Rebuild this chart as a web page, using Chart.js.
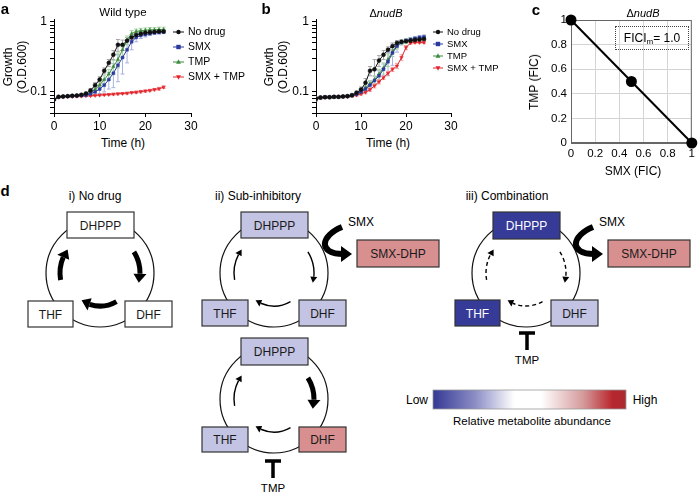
<!DOCTYPE html>
<html><head><meta charset="utf-8">
<script src="https://cdn.jsdelivr.net/npm/chart.js@4/dist/chart.umd.min.js"></script>
<style>
html,body{margin:0;padding:0;background:#fff;}
#root{position:relative;width:699px;height:493px;overflow:hidden;font-family:"Liberation Sans",Arial,sans-serif;color:#000;}
canvas{position:absolute;}
svg{position:absolute;left:0;top:0;}
.t{position:absolute;white-space:nowrap;transform:translate(-50%,-50%);line-height:1;}
.r{transform:translate(-50%,-50%) rotate(-90deg);}
#fici{position:absolute;left:615px;top:26px;width:74px;height:24px;border:1px dotted #444;box-sizing:border-box;font-size:12px;text-align:center;line-height:22px;}
#fici sub{font-size:8px;line-height:0;vertical-align:-2px;}
</style></head><body><div id="root">
<svg id="d" width="699" height="493"></svg>
<canvas id="ca" style="left:0;top:0" width="250" height="135"></canvas>
<canvas id="cb" style="left:262px;top:0" width="262" height="135"></canvas>
<canvas id="cc" style="left:460px;top:0" width="239" height="165"></canvas>
<div id="fici">FICI<sub>m</sub>= 1.0</div>
</div>
<script>
// ---------------- data ----------------
const hours = [0,1,2,3,4,5,6,7,8,9,10,11,12,13,14,15,16,17,18,19,20,21,22,23,24];
const seriesNames = ['No drug','SMX','TMP','SMX + TMP'];
const timeTicks = [0,10,20,30];
const growthTickLabels = [0.1, 1];
const growthTickMarks = [0.05,0.06,0.07,0.08,0.09,0.1,0.2,0.3,0.4,0.5,0.6,0.7,0.8,0.9,1];
const ficTicks = [0,0.2,0.4,0.6,0.8,1];

// panel a: wild type
const noDrugA = [0.078,0.085,0.086,0.087,0.088,0.089,0.091,0.095,0.105,0.125,0.150,0.200,0.260,0.340,0.470,0.470,0.540,0.600,0.650,0.680,0.700,0.710,0.720,0.730,0.730];
const smxA    = [0.078,0.085,0.086,0.087,0.088,0.088,0.089,0.090,0.094,0.100,0.110,0.125,0.150,0.185,0.240,0.310,0.400,0.520,0.600,0.640,0.660,0.680,0.700,0.710,0.720];
const tmpA    = [0.078,0.085,0.086,0.087,0.088,0.089,0.090,0.092,0.098,0.108,0.125,0.150,0.180,0.230,0.290,0.400,0.550,0.680,0.730,0.750,0.760,0.770,0.770,0.780,0.780];
const comboA  = [0.078,0.084,0.085,0.086,0.086,0.087,0.087,0.088,0.088,0.089,0.090,0.091,0.092,0.093,0.094,0.095,0.096,0.098,0.099,0.101,0.103,0.105,0.108,0.111,0.117];
const errNoDrugA = [0.002,0.002,0.002,0.002,0.002,0.002,0.003,0.004,0.006,0.010,0.015,0.020,0.030,0.050,0.090,0.080,0.060,0.050,0.040,0.040,0.040,0.040,0.040,0.040,0.040];
const errSmxA    = [0.002,0.002,0.002,0.002,0.002,0.002,0.003,0.004,0.006,0.010,0.015,0.025,0.040,0.070,0.100,0.130,0.140,0.120,0.080,0.060,0.050,0.040,0.040,0.040,0.040];
const errTmpA    = [0.002,0.002,0.002,0.002,0.002,0.002,0.003,0.004,0.006,0.010,0.015,0.020,0.030,0.050,0.070,0.090,0.080,0.070,0.060,0.060,0.060,0.060,0.060,0.060,0.060];
const errComboA  = [0.002,0.002,0.002,0.002,0.002,0.002,0.002,0.002,0.002,0.002,0.002,0.002,0.003,0.003,0.003,0.003,0.003,0.003,0.004,0.004,0.004,0.004,0.004,0.005,0.005];

// panel b: delta nudB
const noDrugB = [0.080,0.083,0.084,0.084,0.085,0.085,0.086,0.087,0.090,0.097,0.108,0.135,0.200,0.210,0.280,0.340,0.400,0.450,0.500,0.520,0.530,0.540,0.550,0.560,0.570];
const smxB    = [0.080,0.083,0.084,0.084,0.085,0.085,0.086,0.087,0.089,0.093,0.100,0.110,0.125,0.145,0.170,0.210,0.270,0.360,0.450,0.510,0.540,0.560,0.580,0.600,0.610];
const tmpB    = [0.080,0.083,0.084,0.084,0.085,0.085,0.086,0.087,0.089,0.094,0.102,0.115,0.130,0.150,0.180,0.220,0.290,0.380,0.460,0.510,0.530,0.550,0.560,0.570,0.580];
const comboB  = [0.080,0.083,0.084,0.084,0.085,0.085,0.086,0.086,0.088,0.090,0.094,0.099,0.108,0.122,0.140,0.160,0.185,0.210,0.235,0.310,0.430,0.500,0.510,0.510,0.510];
const errNoDrugB = [0.006,0.004,0.003,0.003,0.003,0.003,0.003,0.003,0.004,0.006,0.010,0.020,0.030,0.080,0.050,0.050,0.040,0.050,0.040,0.030,0.030,0.030,0.030,0.030,0.030];
const errSmxB    = [0.004,0.003,0.003,0.003,0.003,0.003,0.003,0.003,0.004,0.005,0.008,0.010,0.015,0.020,0.030,0.040,0.100,0.120,0.080,0.040,0.040,0.040,0.040,0.040,0.040];
const errTmpB    = [0.004,0.003,0.003,0.003,0.003,0.003,0.003,0.003,0.004,0.005,0.008,0.010,0.015,0.020,0.030,0.040,0.060,0.060,0.050,0.040,0.040,0.040,0.040,0.040,0.040];
const errComboB  = [0.004,0.003,0.003,0.003,0.003,0.003,0.003,0.003,0.003,0.003,0.004,0.005,0.006,0.008,0.010,0.010,0.012,0.015,0.020,0.030,0.030,0.020,0.020,0.020,0.020];

// panel c: isobologram
const smxFic = [0, 0.5, 1];
const tmpFic = [1, 0.5, 0];

// ---------------- styles ----------------
const seriesColors = ['#111111','#2b3a9e','#3d8b3d','#e3262c'];
const errColors = ['#a8a8a8','#a9b2dc','#a9d3a9','#f2a3a3'];
const markers = ['circle','rect','triangle','triangle'];
const markerRot = [0,0,0,180];
const FONT = '"Liberation Sans", Arial, sans-serif';

function drawMarker(ctx, style, x, y, r, rot){
  ctx.beginPath();
  if(style==='circle'){ ctx.arc(x,y,r,0,Math.PI*2); }
  else if(style==='rect'){ ctx.rect(x-r,y-r,2*r,2*r); }
  else { const s = rot===180?-1:1; ctx.moveTo(x,y-s*r*1.2); ctx.lineTo(x+r*1.1,y+s*r*0.8); ctx.lineTo(x-r*1.1,y+s*r*0.8); ctx.closePath(); }
  ctx.fill();
}

const legendPlugin = {
  id:'lg',
  afterDraw(chart, args, o){
    if(!o || !o.items) return;
    const ctx = chart.ctx; ctx.save();
    ctx.font = o.size + 'px ' + FONT; ctx.textBaseline='middle'; ctx.textAlign='left';
    o.items.forEach((txt,i)=>{
      const y = o.y + i*o.dy; const c = seriesColors[i];
      ctx.strokeStyle=c; ctx.fillStyle=c; ctx.lineWidth=1;
      ctx.beginPath(); ctx.moveTo(o.x,y); ctx.lineTo(o.x+o.len,y); ctx.stroke();
      drawMarker(ctx, markers[i], o.x+o.len/2, y, 2.2, markerRot[i]);
      ctx.fillStyle='#000'; ctx.fillText(txt, o.x+o.len+4, y+0.5);
    });
    ctx.restore();
  }
};

const errPlugin = {
  id:'err',
  beforeDatasetsDraw(chart){
    const {ctx, chartArea:a, scales} = chart; const xs=scales.x, ys=scales.y;
    ctx.save(); ctx.beginPath(); ctx.rect(a.left,a.top-2,a.right-a.left,a.bottom-a.top+2); ctx.clip();
    chart.data.datasets.forEach(ds=>{
      if(!ds.errors) return;
      ctx.strokeStyle = ds.errColor; ctx.lineWidth=1;
      ds.data.forEach((p,j)=>{
        const e = ds.errors[j]; if(!e) return;
        const px = xs.getPixelForValue(p.x);
        const y0 = ys.getPixelForValue(Math.max(p.y-e, 0.051)); const y1 = ys.getPixelForValue(p.y+e);
        ctx.beginPath();
        ctx.moveTo(px,y0); ctx.lineTo(px,y1);
        ctx.moveTo(px-2,y0); ctx.lineTo(px+2,y0);
        ctx.moveTo(px-2,y1); ctx.lineTo(px+2,y1);
        ctx.stroke();
      });
    });
    ctx.restore();
  }
};

function growthChart(id, series, errs, rightPad, lg){
  const datasets = series.map((vals,i)=>({
    label: seriesNames[i],
    data: hours.map((h,k)=>({x:h,y:vals[k]})),
    errors: errs[i], errColor: errColors[i],
    borderColor: seriesColors[i], backgroundColor: seriesColors[i],
    borderWidth: 1, pointRadius: 2, pointStyle: markers[i], pointRotation: markerRot[i],
    pointBorderWidth: 0.5, tension: 0
  }));
  new Chart(document.getElementById(id), {
    type:'line',
    data:{datasets},
    plugins:[errPlugin, legendPlugin],
    options:{
      responsive:false, animation:false, devicePixelRatio:1,
      layout:{padding:{left:0, top:19, right:rightPad, bottom:0}},
      plugins:{legend:{display:false}, tooltip:{enabled:false}, lg:lg},
      scales:{
        x:{type:'linear', min:timeTicks[0], max:timeTicks[timeTicks.length-1],
           afterBuildTicks:s=>{s.ticks = timeTicks.map(v=>({value:v}));},
           ticks:{font:{size:12,family:FONT}, color:'#000', padding:2, autoSkip:false, maxRotation:0},
           grid:{drawOnChartArea:false, tickLength:4, color:'#000'}, border:{color:'#000', width:1},
           afterFit:s=>{s.height=22;}},
        y:{type:'logarithmic', min:0.05, max:1.1,
           afterBuildTicks:s=>{s.ticks = growthTickMarks.map(v=>({value:v}));},
           ticks:{autoSkip:false, font:{size:12,family:FONT}, color:'#000', padding:3,
                  callback:(v)=> growthTickLabels.some(t=>Math.abs(t-v)<1e-9) ? String(v) : ''},
           grid:{drawOnChartArea:false, tickLength:4, color:'#000'}, border:{color:'#000', width:1},
           afterFit:s=>{s.width=54;}}
      }
    }
  });
}

growthChart('ca', [noDrugA, smxA, tmpA, comboA], [errNoDrugA, errSmxA, errTmpA, errComboA], 59,
  {items:seriesNames, x:173, len:11, y:32, dy:15, size:10.5});
growthChart('cb', [noDrugB, smxB, tmpB, comboB], [errNoDrugB, errSmxB, errTmpB, errComboB], 73,
  {items:seriesNames, x:171, len:10, y:32, dy:12, size:9.5});

const boxPlugin = {
  id:'box',
  beforeDatasetsDraw(chart){
    const {ctx, chartArea:a} = chart; ctx.save(); ctx.strokeStyle='#666'; ctx.lineWidth=1;
    ctx.strokeRect(a.left+0.5, a.top+0.5, a.right-a.left-1, a.bottom-a.top-1); ctx.restore();
  }
};
const ficFmt = v => String(Number(v.toFixed(1)));
new Chart(document.getElementById('cc'), {
  type:'scatter',
  data:{datasets:[{data: smxFic.map((x,i)=>({x, y:tmpFic[i]})), showLine:true,
    borderColor:'#000', backgroundColor:'#000', borderWidth:2, pointRadius:4.5, clip:false}]},
  plugins:[boxPlugin],
  options:{
    responsive:false, animation:false, devicePixelRatio:1,
    layout:{padding:{left:0, top:20, right:4, bottom:0}},
    plugins:{legend:{display:false}, tooltip:{enabled:false}},
    scales:{
      x:{type:'linear', min:0, max:1, afterBuildTicks:s=>{s.ticks=ficTicks.map(v=>({value:v}));},
         ticks:{callback:ficFmt, font:{size:11.5,family:FONT}, color:'#000', padding:4, maxRotation:0, autoSkip:false},
         grid:{color:'#d4d4d4', drawTicks:false}, border:{color:'#666'}, afterFit:s=>{s.height=22;}},
      y:{type:'linear', min:0, max:1, afterBuildTicks:s=>{s.ticks=ficTicks.map(v=>({value:v}));},
         ticks:{callback:ficFmt, font:{size:11.5,family:FONT}, color:'#000', padding:4, autoSkip:false},
         grid:{color:'#d4d4d4', drawTicks:false}, border:{color:'#666'}, afterFit:s=>{s.width=111;}}
    }
  }
});

// ---------------- text labels ----------------
const root = document.getElementById('root');
function label(html, x, y, size, extra){
  const d = document.createElement('div'); d.className='t' + (extra&&extra.rot?' r':'');
  d.innerHTML = html; d.style.left=x+'px'; d.style.top=y+'px'; d.style.fontSize=size+'px';
  if(extra&&extra.bold) d.style.fontWeight='bold';
  root.appendChild(d);
}
label('a',5,8,15,{bold:1}); label('b',266,8,15,{bold:1}); label('c',536,9,15,{bold:1}); label('d',5,190,15,{bold:1});
label('Wild type',123,13,11.5);
label('\u0394<i>nudB</i>',386,13,11);
label('\u0394<i>nudB</i>',643,13,11);
label('Time (h)',123,143,12); label('Time (h)',388,143,12);
label('Growth',8,67,12,{rot:1}); label('(O.D.600)',22,67,12,{rot:1});
label('Growth',269,67,12,{rot:1}); label('(O.D.600)',283,67,12,{rot:1});
label('TMP (FIC)',534,82,12,{rot:1});
label('SMX (FIC)',633,171,12);

// ---------------- panel d diagram ----------------
const svg = document.getElementById('d');
const NS='http://www.w3.org/2000/svg';
function el(tag, attrs){ const e=document.createElementNS(NS,tag); for(const k in attrs) e.setAttribute(k,attrs[k]); svg.appendChild(e); return e; }
function txt(s,x,y,size,color,anchor){ const e=el('text',{x,y,'font-size':size,'font-family':FONT,fill:color||'#000','text-anchor':anchor||'middle','dominant-baseline':'central'}); e.textContent=s; return e; }
const LAV='#c3c3e4', BLUE='#363b98', SAL='#d88f90', WHITE='#ffffff';
function box(x,y,w,h,fill,s,tc){ el('rect',{x,y,width:w,height:h,fill,stroke:'#333','stroke-width':1.2}); txt(s,x+w/2,y+h/2+0.5,12,tc||'#1a1a1a'); }
function ring(cx,cy,r){ el('circle',{cx,cy,r,fill:'none',stroke:'#111','stroke-width':1.2}); }
const rad = d=>d*Math.PI/180;
function arcArrow(cx,cy,r,a0,a1,kind){
  const sw = kind==='thick'?5:1.4, hl = kind==='thick'?9:6, hw = kind==='thick'?6.5:3.5;
  const aEnd = a1 - (hl/r)*180/Math.PI;
  const P = a=>[cx+r*Math.cos(rad(a)), cy+r*Math.sin(rad(a))];
  const p0=P(a0), pe=P(aEnd), tip=P(a1);
  const attrs={d:`M${p0[0]} ${p0[1]} A${r} ${r} 0 0 1 ${pe[0]} ${pe[1]}`, fill:'none', stroke:'#000','stroke-width':sw};
  if(kind==='dash') attrs['stroke-dasharray']='4,3';
  el('path',attrs);
  const nx=Math.cos(rad(aEnd)), ny=Math.sin(rad(aEnd));
  el('polygon',{points:`${tip[0]},${tip[1]} ${pe[0]+nx*hw},${pe[1]+ny*hw} ${pe[0]-nx*hw},${pe[1]-ny*hw}`, fill:'#000'});
}
function cycleArrows(cx,cy,kinds){
  arcArrow(cx,cy,40,-32,14,kinds[0]);
  arcArrow(cx,cy,33,60,124,kinds[1]);
  arcArrow(cx,cy,40,170,216,kinds[2]);
}
function inhibitor(x,y){
  el('path',{d:`M${x-8} ${y} L${x+8} ${y} M${x} ${y} L${x} ${y+17}`, stroke:'#000','stroke-width':3.5, fill:'none'});
  txt('TMP',x,y+27,11.5);
}
function smxHook(dx){
  txt('SMX',348+dx,222,12,'#000','start');
  el('path',{d:`M${342+dx} 227 C${320+dx} 236, ${318+dx} 254, ${343+dx} 254`, fill:'none', stroke:'#000','stroke-width':6});
  el('polygon',{points:`${341+dx},246 ${341+dx},262 ${352+dx},254`, fill:'#000'});
  box(357+dx,240,82,27,SAL,'SMX-DHP');
}

// i) No drug
txt('i) No drug',95,196,12);
ring(100,273,54);
box(67,212,67,26,WHITE,'DHPPP'); box(28,301,45,26,WHITE,'THF'); box(125,301,47,26,WHITE,'DHF');
cycleArrows(100,273,['thick','thick','thick']);

// ii) Sub-inhibitory (top)
txt('ii) Sub-inhibitory',258,196,12);
ring(274,273,54);
box(241,212,67,26,LAV,'DHPPP'); box(202,300,46,26,LAV,'THF'); box(299,300,47,26,LAV,'DHF');
cycleArrows(274,273,['thin','thin','thin']);
smxHook(0);

// ii) Sub-inhibitory (bottom)
ring(274,399,54);
box(241,338,67,27,LAV,'DHPPP'); box(202,427,46,25,LAV,'THF'); box(299,427,47,25,SAL,'DHF');
cycleArrows(274,399,['thick','thin','thin']);
inhibitor(273,461);

// iii) Combination
txt('iii) Combination',507,196,12);
ring(526,273,54);
box(493,212,67,27,BLUE,'DHPPP','#fff'); box(455,300,45,26,BLUE,'THF','#fff'); box(551,300,47,26,LAV,'DHF');
cycleArrows(526,273,['dash','dash','dash']);
smxHook(251);
inhibitor(527,333);

// colour bar
const defs = el('defs',{});
const lg = document.createElementNS(NS,'linearGradient'); lg.setAttribute('id','cbar'); defs.appendChild(lg);
[[0,'#343994'],[0.22,'#8c8ec6'],[0.42,'#ffffff'],[0.56,'#ffffff'],[0.78,'#d5999b'],[0.93,'#b8262d'],[1,'#ab2a30']].forEach(([o,c])=>{
  const s=document.createElementNS(NS,'stop'); s.setAttribute('offset',o); s.setAttribute('stop-color',c); lg.appendChild(s);
});
el('rect',{x:433,y:390,width:193,height:19,fill:'url(#cbar)',stroke:'#999','stroke-width':0.8});
txt('Low',417,400,12); txt('High',645,400,12);
txt('Relative metabolite abundance',532,421,11.5);
</script>
</body></html>
